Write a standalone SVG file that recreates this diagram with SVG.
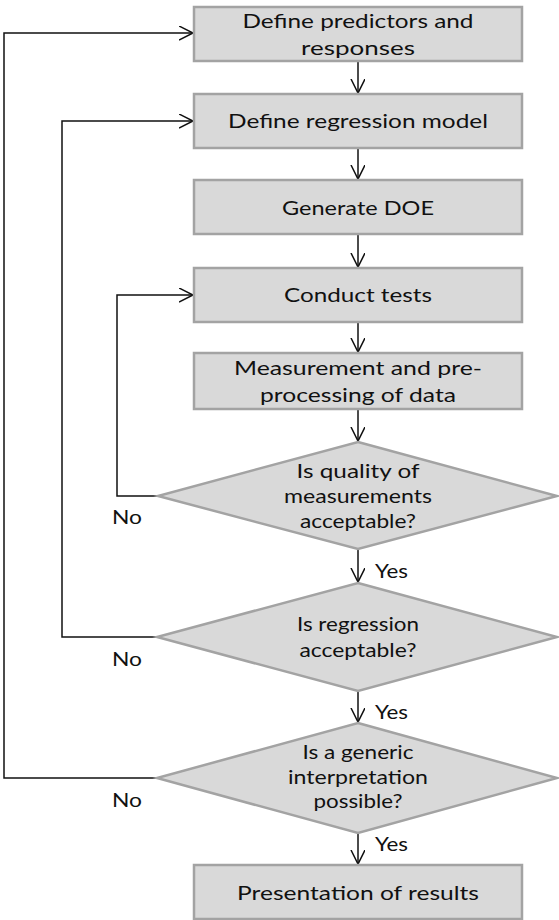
<svg xmlns="http://www.w3.org/2000/svg" width="559" height="920" viewBox="0 0 559 920">
<style>
.box{fill:#d9d9d9;stroke:#a3a3a3;stroke-width:2.5}
.t{font-family:Lato,"Liberation Sans",sans-serif;font-size:20px;fill:#111;text-anchor:middle}
.l{font-family:Lato,"Liberation Sans",sans-serif;font-size:20px;fill:#111}
.c{fill:none;stroke:#111;stroke-width:1.5}
</style>
<defs>
<marker id="a" markerUnits="userSpaceOnUse" markerWidth="16" markerHeight="16" refX="14" refY="7" orient="auto">
<path d="M0,0 L14,7 L0,14" fill="none" stroke="#111" stroke-width="1.5"/>
</marker>
</defs>
<g id="connectors">
<path class="c" d="M358,61 V93" marker-end="url(#a)"/>
<path class="c" d="M358,148 V179" marker-end="url(#a)"/>
<path class="c" d="M358,234 V267" marker-end="url(#a)"/>
<path class="c" d="M358,322 V352" marker-end="url(#a)"/>
<path class="c" d="M358,409 V441" marker-end="url(#a)"/>
<path class="c" d="M358,549 V582" marker-end="url(#a)"/>
<path class="c" d="M358,691 V722" marker-end="url(#a)"/>
<path class="c" d="M358,833 V864" marker-end="url(#a)"/>
<path class="c" d="M158,496 H117 V295 H193" marker-end="url(#a)"/>
<path class="c" d="M157,637 H62 V121 H193" marker-end="url(#a)"/>
<path class="c" d="M157,778 H4 V33 H193" marker-end="url(#a)"/>
<text class="l" x="112" y="524" textLength="30" lengthAdjust="spacingAndGlyphs">No</text>
<text class="l" x="112" y="666" textLength="30" lengthAdjust="spacingAndGlyphs">No</text>
<text class="l" x="112" y="807" textLength="30" lengthAdjust="spacingAndGlyphs">No</text>
<text class="l" x="375" y="578" textLength="33" lengthAdjust="spacingAndGlyphs">Yes</text>
<text class="l" x="375" y="719" textLength="33" lengthAdjust="spacingAndGlyphs">Yes</text>
<text class="l" x="375" y="851" textLength="33" lengthAdjust="spacingAndGlyphs">Yes</text>
</g>
<g id="n1"><rect class="box" x="194" y="7" width="328" height="54"/><text class="t" x="358" y="28" textLength="231" lengthAdjust="spacingAndGlyphs">Define predictors and</text><text class="t" x="358" y="55" textLength="114" lengthAdjust="spacingAndGlyphs">responses</text></g>
<g id="n2"><rect class="box" x="194" y="94" width="328" height="54"/><text class="t" x="358" y="128" textLength="260" lengthAdjust="spacingAndGlyphs">Define regression model</text></g>
<g id="n3"><rect class="box" x="194" y="180" width="328" height="54"/><text class="t" x="358" y="215" textLength="152" lengthAdjust="spacingAndGlyphs">Generate DOE</text></g>
<g id="n4"><rect class="box" x="194" y="268" width="328" height="54"/><text class="t" x="358" y="302" textLength="148" lengthAdjust="spacingAndGlyphs">Conduct tests</text></g>
<g id="n5"><rect class="box" x="194" y="353" width="328" height="56"/><text class="t" x="358" y="375" textLength="248" lengthAdjust="spacingAndGlyphs">Measurement and pre-</text><text class="t" x="358" y="402" textLength="196" lengthAdjust="spacingAndGlyphs">processing of data</text></g>
<g id="d1"><polygon class="box" points="358,442 557,496 358,549 158,496"/><text class="t" x="358" y="478" textLength="123" lengthAdjust="spacingAndGlyphs">Is  quality of</text><text class="t" x="358" y="503" textLength="148" lengthAdjust="spacingAndGlyphs">measurements</text><text class="t" x="358" y="528" textLength="116" lengthAdjust="spacingAndGlyphs">acceptable?</text></g>
<g id="d2"><polygon class="box" points="358,583 557,637 358,691 157,637"/><text class="t" x="358" y="631" textLength="122" lengthAdjust="spacingAndGlyphs">Is regression</text><text class="t" x="358" y="657" textLength="117" lengthAdjust="spacingAndGlyphs">acceptable?</text></g>
<g id="d3"><polygon class="box" points="358,723 557,778 358,833 157,778"/><text class="t" x="358" y="759" textLength="111" lengthAdjust="spacingAndGlyphs">Is a generic</text><text class="t" x="358" y="784" textLength="140" lengthAdjust="spacingAndGlyphs">interpretation</text><text class="t" x="358" y="808" textLength="89" lengthAdjust="spacingAndGlyphs">possible?</text></g>
<g id="n6"><rect class="box" x="194" y="865" width="328" height="54"/><text class="t" x="358" y="900" textLength="242" lengthAdjust="spacingAndGlyphs">Presentation of results</text></g>
</svg>
